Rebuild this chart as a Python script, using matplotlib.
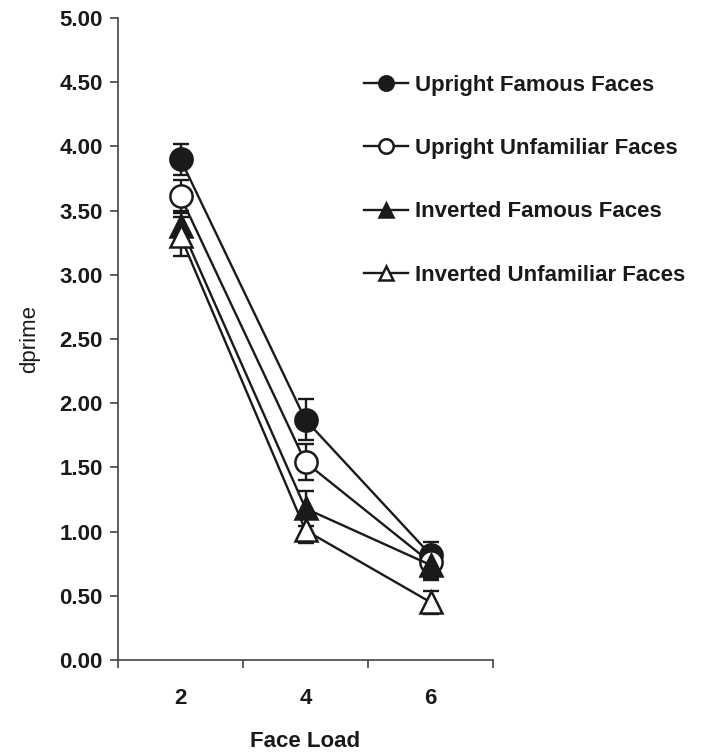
import matplotlib
matplotlib.use("Agg")
import matplotlib.pyplot as plt
import numpy as np

plt.rcParams['font.family'] = ['Liberation Sans', 'DejaVu Sans']

loads = ["2", "4", "6"]
series_names = ["Upright Famous Faces", "Upright Unfamiliar Faces",
                "Inverted Famous Faces", "Inverted Unfamiliar Faces"]
upright_famous = [3.90, 1.87, 0.82]
upright_famous_err = [0.12, 0.16, 0.10]
upright_unfamiliar = [3.61, 1.54, 0.76]
upright_unfamiliar_err = [0.13, 0.14, 0.12]
inverted_famous = [3.38, 1.18, 0.74]
inverted_famous_err = [0.12, 0.14, 0.12]
inverted_unfamiliar = [3.30, 1.01, 0.45]
inverted_unfamiliar_err = [0.15, 0.10, 0.09]

values = [upright_famous, upright_unfamiliar, inverted_famous, inverted_unfamiliar]
errors = [upright_famous_err, upright_unfamiliar_err, inverted_famous_err, inverted_unfamiliar_err]
markers = ['o', 'o', '^', '^']
faces = ['#1a1a1a', 'white', '#1a1a1a', 'white']

fig = plt.figure(figsize=(7.04, 7.53), dpi=100)
ax = fig.add_axes([118/704, 1-660/753, (493-118)/704, (660-18)/753])

x = np.arange(1, len(loads) + 1)
handles = []
for vals, errs, m, fc, name in zip(values, errors, markers, faces, series_names):
    ax.errorbar(x, vals, yerr=errs, fmt='none', ecolor='#1a1a1a',
                elinewidth=1.7, capsize=5.5, capthick=1.7, zorder=2)
    h, = ax.plot(x, vals, color='#1a1a1a', lw=1.7, marker=m, markersize=16,
                 markerfacecolor=fc, markeredgecolor='#1a1a1a', markeredgewidth=1.8,
                 zorder=3, label=name)
    handles.append(h)

ax.set_xlim(0.5, 3.5)
ax.set_ylim(0, 5)
ax.set_yticks(np.arange(0, 5.01, 0.5))
ax.set_yticklabels([f"{v:.2f}" for v in np.arange(0, 5.01, 0.5)],
                   fontsize=16, fontweight='bold', color='#1a1a1a')
ax.set_xticks([0.5, 1.5, 2.5, 3.5])
ax.set_xticklabels([])
ax.set_xticks(x, minor=True)
ax.set_xticklabels(loads, minor=True, fontsize=16, fontweight='bold', color='#1a1a1a')
ax.tick_params(axis='x', which='minor', length=0, pad=20)
ax.tick_params(axis='x', which='major', length=6, direction='out', width=1.2, color='#444444')
ax.tick_params(axis='y', length=6, direction='out', width=1.2, color='#444444', pad=5)

for s in ['top', 'right']:
    ax.spines[s].set_visible(False)
for s in ['left', 'bottom']:
    ax.spines[s].set_color('#444444')
    ax.spines[s].set_linewidth(1.2)

ax.set_ylabel("dprime", fontsize=16, color='#1a1a1a', labelpad=14)
ax.set_xlabel("Face Load", fontsize=16, fontweight='bold', color='#1a1a1a', labelpad=16)

leg = fig.legend(handles=handles, loc='upper left', bbox_to_anchor=(344/704, 1-55/753),
                 frameon=False, markerscale=0.65, labelspacing=1.9, handlelength=2.0,
                 handletextpad=0.3, prop={'size': 16, 'weight': 'bold'})
for t in leg.get_texts():
    t.set_color('#1a1a1a')

fig.savefig("out.png", dpi=100)
